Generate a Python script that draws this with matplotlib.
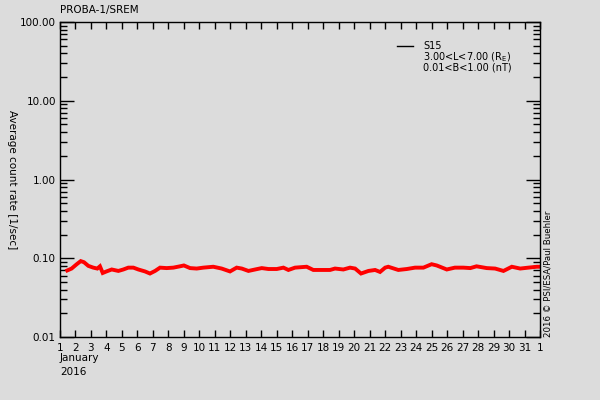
import matplotlib
matplotlib.use("Agg")
import matplotlib.pyplot as plt
import numpy as np
from matplotlib.ticker import LogLocator, FixedLocator, NullFormatter

# day of January 2016 (fractional) and S15 average count rate [1/sec]
days = [1.47, 1.75, 2.08, 2.34, 2.55, 2.83, 3.15, 3.41, 3.58, 3.76, 4.0, 4.34,
        4.77, 5.09, 5.41, 5.74, 6.06, 6.49, 6.81, 7.14, 7.46, 7.89, 8.32, 8.75,
        9.0, 9.4, 9.83, 10.26, 10.9, 11.44, 11.98, 12.41, 12.74, 13.17, 13.6,
        14.03, 14.46, 15.0, 15.43, 15.75, 16.18, 16.93, 17.36, 17.9, 18.44,
        18.76, 19.3, 19.73, 20.06, 20.44, 20.92, 21.35, 21.67, 22.0, 22.2,
        22.85, 23.4, 23.93, 24.47, 25.0, 25.33, 25.98, 26.5, 27.05, 27.5, 27.9,
        28.56, 29.1, 29.64, 30.18, 30.72, 31.25, 31.8, 32.0]
rate = [0.070, 0.074, 0.084, 0.092, 0.089, 0.080, 0.076, 0.074, 0.079, 0.065,
        0.068, 0.072, 0.069, 0.072, 0.076, 0.076, 0.072, 0.068, 0.064, 0.069,
        0.076, 0.075, 0.076, 0.079, 0.081, 0.075, 0.074, 0.076, 0.078, 0.074,
        0.068, 0.076, 0.074, 0.069, 0.072, 0.075, 0.073, 0.073, 0.076, 0.071,
        0.076, 0.078, 0.071, 0.071, 0.071, 0.074, 0.072, 0.076, 0.074, 0.064,
        0.069, 0.071, 0.067, 0.076, 0.078, 0.071, 0.073, 0.076, 0.076, 0.084,
        0.081, 0.072, 0.076, 0.076, 0.075, 0.079, 0.075, 0.074, 0.069, 0.078,
        0.074, 0.076, 0.078, 0.078]

day_ticks = list(range(1, 33))
day_labels = [str(d) for d in range(1, 32)] + ["1"]
y_ticks = [0.01, 0.1, 1, 10, 100]
y_labels = ["0.01", "0.10", "1.00", "10.00", "100.00"]

bg = "#dcdcdc"
plt.rcParams["font.family"] = ["DejaVu Sans"]
plt.rcParams["font.size"] = 7.5

fig = plt.figure(figsize=(6, 4), dpi=100, facecolor=bg)
ax = fig.add_axes([60 / 600, 63 / 400, 480 / 600, 315 / 400], facecolor=bg)

ax.plot(days, rate, color="red", lw=2.8, solid_joinstyle="miter")

ax.set_xlim(1, 32)
ax.set_yscale("log")
ax.set_ylim(0.01, 100)

ax.xaxis.set_major_locator(FixedLocator(day_ticks))
ax.set_xticklabels(day_labels)
ax.set_yticks(y_ticks)
ax.set_yticklabels(y_labels)
ax.yaxis.set_minor_locator(LogLocator(base=10, subs=np.arange(2, 10)))
ax.yaxis.set_minor_formatter(NullFormatter())

ax.tick_params(axis="x", which="major", direction="in", length=5, width=1,
               top=True, pad=4)
ax.tick_params(axis="y", which="major", direction="in", length=10, width=1,
               right=True, pad=3)
ax.tick_params(axis="y", which="minor", direction="in", length=5, width=1,
               right=True)
for s in ax.spines.values():
    s.set_linewidth(1)

ax.set_ylabel("Average count rate [1/sec]", rotation=-90, labelpad=8,
              va="center")
ax.yaxis.set_label_coords(-0.1, 0.5)

fig.text(60 / 600, 1 - 10 / 400, "PROBA-1/SREM", ha="left", va="center")
fig.text(60 / 600, 1 - 358 / 400, "January", ha="left", va="center")
fig.text(60 / 600, 1 - 372 / 400, "2016", ha="left", va="center")
fig.text(548 / 600, 1 - 274 / 400, "2016 \u00a9 PSI/ESA/Paul Buehler",
         rotation=90, ha="center", va="center", fontsize=6.2)

# legend
ax.plot([0.702, 0.736], [0.924, 0.924], transform=ax.transAxes,
        color="black", lw=1)
ax.text(0.757, 0.924, "S15", transform=ax.transAxes, va="center",
        fontsize=7)
ax.text(0.757, 0.889, "3.00<L<7.00 (R$_\\mathregular{E}$)",
        transform=ax.transAxes, va="center", fontsize=7)
ax.text(0.757, 0.855, "0.01<B<1.00 (nT)", transform=ax.transAxes,
        va="center", fontsize=7)

fig.savefig("out.png", dpi=100, facecolor=bg)
